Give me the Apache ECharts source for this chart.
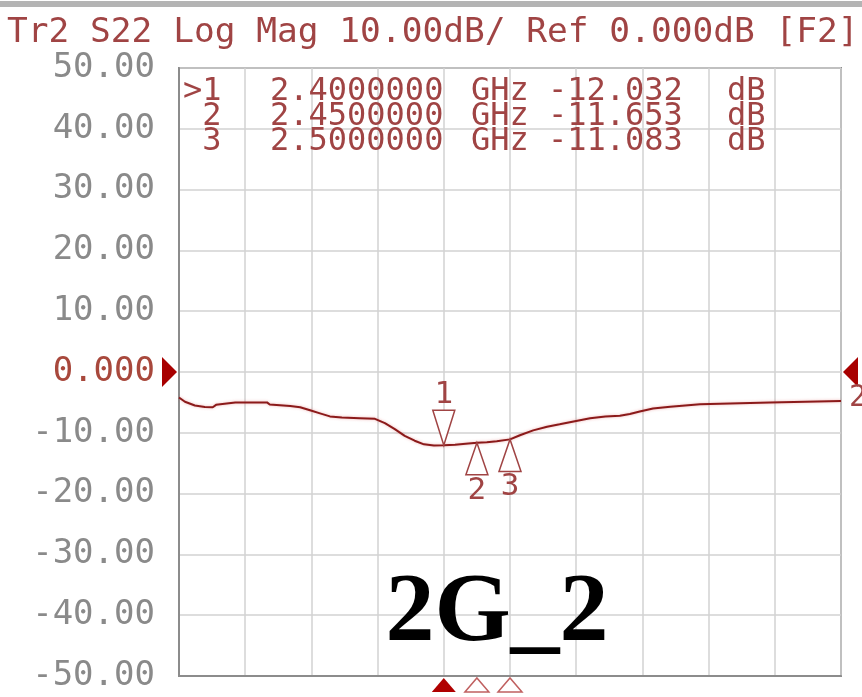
<!DOCTYPE html>
<html>
<head>
<meta charset="utf-8">
<script src="https://cdn.jsdelivr.net/npm/echarts@6/dist/echarts.min.js"></script>
<style>
  html, body { margin: 0; padding: 0; background: #fff; }
  #chart { width: 862px; height: 697px; }
</style>
</head>
<body>
<div id="chart"></div>
<script>
// S22 trace (GHz, dB)
const freqGHz = [2.000, 2.009, 2.024, 2.039, 2.051, 2.056, 2.085, 2.133, 2.137, 2.168,
  2.183, 2.198, 2.213, 2.228, 2.246, 2.273, 2.296, 2.311, 2.326, 2.341,
  2.356, 2.370, 2.385, 2.400, 2.417, 2.433, 2.450, 2.465, 2.480, 2.500,
  2.515, 2.535, 2.556, 2.575, 2.598, 2.621, 2.644, 2.666, 2.681, 2.696,
  2.716, 2.742, 2.787, 2.790, 2.893, 2.896, 3.000];
const s22Db = [-4.2, -4.9, -5.5, -5.75, -5.8, -5.4, -5.0, -5.0, -5.35, -5.6,
  -5.8, -6.3, -6.8, -7.3, -7.5, -7.6, -7.7, -8.4, -9.4, -10.5,
  -11.3, -11.9, -12.1, -12.032, -11.95, -11.8, -11.653, -11.55, -11.4, -11.083,
  -10.4, -9.6, -9.0, -8.6, -8.1, -7.6, -7.3, -7.2, -6.9, -6.5,
  -6.0, -5.7, -5.3, -5.0, -5.0, -4.75, -4.75];

// markers
const markerFreqGHz = [2.40, 2.45, 2.50];
const markerDb = [-12.032, -11.653, -11.083];
const markerNames = ['1', '2', '3'];

// axis settings
const freqStart = 2.0, freqStop = 3.0, freqDiv = 0.1;
const dbMin = -50, dbMax = 50, dbDiv = 10, refDb = 0;

const headerText = 'Tr2 S22 Log Mag 10.00dB/ Ref 0.000dB [F2]';
const figureLabel = '2G_2';

const MONO = '"DejaVu Sans Mono", monospace';
const TRACE = '#8b1a1a';
const TEXT_RED = '#a04444';

// marker readout table, one text per column so the spacing follows the screen
const tableCols = [183, 270, 471, 548, 727];
const tableRowY = [91.5, 117, 142];
const tableCells = markerFreqGHz.map((f, i) => [
  (i === 0 ? '>' : ' ') + markerNames[i],
  f.toFixed(7),
  'GHz',
  markerDb[i].toFixed(3),
  'dB'
]);

const chart = echarts.init(document.getElementById('chart'), null, { renderer: 'canvas' });

const tableGraphics = [];
tableCells.forEach((row, r) => {
  row.forEach((t, c) => {
    tableGraphics.push({
      type: 'text', x: tableCols[c], y: tableRowY[r], z: 10,
      style: { text: t, font: '32px ' + MONO, fill: TEXT_RED, verticalAlign: 'middle' }
    });
  });
});

const option = {
  backgroundColor: '#fff',
  animation: false,
  grid: {
    left: 179, right: 21, top: 68, bottom: 21,
    show: true, borderColor: '#8c8c8c', borderWidth: 2, backgroundColor: '#fff'
  },
  xAxis: {
    type: 'value', min: freqStart, max: freqStop, interval: freqDiv,
    axisLabel: { show: false }, axisTick: { show: false },
    axisLine: { show: true, onZero: false, lineStyle: { color: '#8c8c8c', width: 2 } },
    splitLine: { show: true, lineStyle: { color: '#d2d2d2', width: 1.5 } }
  },
  yAxis: {
    type: 'value', min: dbMin, max: dbMax, interval: dbDiv,
    axisTick: { show: false },
    axisLine: { show: true, onZero: false, lineStyle: { color: '#8c8c8c', width: 2 } },
    splitLine: { show: true, lineStyle: { color: '#d2d2d2', width: 1.5 } },
    axisLabel: {
      margin: 24, fontFamily: MONO, fontSize: 34,
      formatter: v => (v === refDb ? '0.000' : v.toFixed(2)),
      color: v => (Number(v) === refDb ? '#a8483c' : '#8a8a8a')
    }
  },
  series: [
    {
      type: 'line',
      data: freqGHz.map((f, i) => [f, s22Db[i]]),
      showSymbol: false,
      lineStyle: { color: TRACE, width: 2, shadowColor: 'rgba(220,90,90,0.45)', shadowBlur: 3 },
      z: 3
    },
    {
      // trace markers with labels
      type: 'custom',
      data: markerFreqGHz.map((f, i) => [f, markerDb[i], i]),
      z: 4,
      renderItem: (params, api) => {
        const p = api.coord([api.value(0), api.value(1)]);
        const i = api.value(2);
        const down = i === 0;
        const h = down ? 35 : 32, w = 11;
        const baseY = down ? p[1] - h : p[1] + h;
        return {
          type: 'group',
          children: [
            {
              type: 'polygon',
              shape: { points: [[p[0] - w, baseY], [p[0] + w, baseY], [p[0], p[1]]] },
              style: { fill: '#fff', stroke: TEXT_RED, lineWidth: 1.5 }
            },
            {
              type: 'text',
              style: {
                text: markerNames[i], x: p[0], y: down ? baseY - 15 : baseY + 16,
                align: 'center', verticalAlign: 'middle',
                font: '31px ' + MONO, fill: TEXT_RED
              }
            }
          ]
        };
      }
    },
    {
      // stimulus markers under the grid
      type: 'custom',
      data: markerFreqGHz.map((f, i) => [f, dbMin, i]),
      z: 4,
      renderItem: (params, api) => {
        const p = api.coord([api.value(0), api.value(1)]);
        const active = api.value(2) === 0;
        const top = p[1] + 2, bot = p[1] + 16, w = 12;
        return {
          type: 'polygon',
          shape: { points: [[p[0] - w, bot], [p[0] + w, bot], [p[0], top]] },
          style: active ? { fill: '#b00000' } : { fill: '#fff', stroke: '#c06060', lineWidth: 1.5 }
        };
      }
    },
    {
      // reference position markers
      type: 'custom',
      data: [[freqStart, refDb, -1], [freqStop, refDb, 1]],
      z: 4,
      renderItem: (params, api) => {
        const p = api.coord([api.value(0), api.value(1)]);
        const side = api.value(2);
        const tipX = p[0] + side * 2;
        const baseX = tipX + side * 15;
        const children = [{
          type: 'polygon',
          shape: { points: [[baseX, p[1] - 15], [baseX, p[1] + 15], [tipX, p[1]]] },
          style: { fill: '#a80000' }
        }];
        if (side > 0) {
          children.push({
            type: 'text',
            style: { text: '2', x: tipX + 6, y: p[1] + 26, align: 'left', verticalAlign: 'middle',
              font: '30px ' + MONO, fill: TEXT_RED }
          });
        }
        return { type: 'group', children };
      }
    }
  ],
  graphic: [
    { type: 'rect', shape: { x: 0, y: 1, width: 862, height: 6 }, style: { fill: '#b4b4b4' } },
    {
      type: 'text', left: 7, top: 16,
      style: { text: headerText, font: '34.5px ' + MONO, fill: TEXT_RED }
    },
    ...tableGraphics,
    {
      type: 'text', x: 497, y: 615, z: 10,
      style: {
        text: figureLabel, font: 'bold 98px "Liberation Serif", "Times New Roman", serif',
        fill: '#000', align: 'center', verticalAlign: 'middle'
      }
    }
  ]
};

chart.setOption(option);
</script>
</body>
</html>
